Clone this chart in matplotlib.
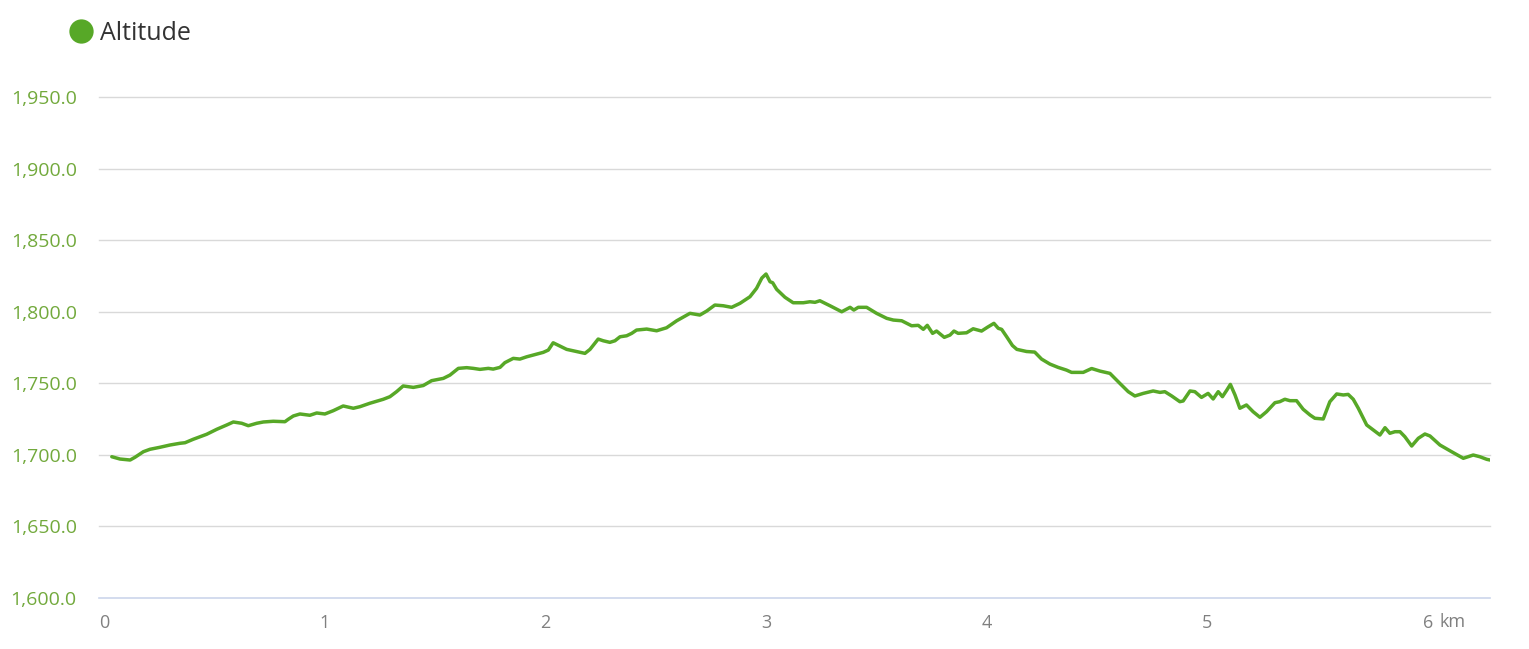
import matplotlib
matplotlib.use("Agg")
import matplotlib.pyplot as plt
from matplotlib.lines import Line2D
import matplotlib.transforms as mtransforms

# Distance along route (km)
distance_km = [
    0.034, 0.071, 0.117, 0.139, 0.177, 0.207, 0.252, 0.298, 0.343, 0.366,
    0.403, 0.464, 0.510, 0.555, 0.585, 0.623, 0.653, 0.691, 0.721, 0.766,
    0.819, 0.834, 0.857, 0.887, 0.932, 0.963, 1.000, 1.038, 1.083, 1.129,
    1.159, 1.204, 1.265, 1.295, 1.325, 1.355, 1.401, 1.446, 1.484, 1.537,
    1.567, 1.605, 1.643, 1.673, 1.703, 1.741, 1.763, 1.794, 1.816, 1.854,
    1.884, 1.915, 1.960, 1.990, 2.013, 2.035, 2.066, 2.096, 2.126, 2.179,
    2.202, 2.239, 2.262, 2.292, 2.315, 2.338, 2.368, 2.391, 2.413, 2.459,
    2.504, 2.549, 2.595, 2.655, 2.700, 2.731, 2.768, 2.806, 2.844, 2.882,
    2.927, 2.957, 2.981, 3.000, 3.018, 3.030, 3.048, 3.086, 3.123, 3.169,
    3.199, 3.222, 3.244, 3.290, 3.343, 3.381, 3.398, 3.418, 3.456, 3.501,
    3.547, 3.577, 3.615, 3.660, 3.690, 3.713, 3.731, 3.755, 3.773, 3.808,
    3.834, 3.852, 3.871, 3.909, 3.939, 3.977, 4.003, 4.033, 4.053, 4.068,
    4.091, 4.117, 4.137, 4.181, 4.218, 4.249, 4.287, 4.324, 4.362, 4.385,
    4.438, 4.476, 4.514, 4.559, 4.604, 4.642, 4.672, 4.710, 4.755, 4.786,
    4.808, 4.839, 4.876, 4.891, 4.922, 4.944, 4.974, 5.004, 5.027, 5.050,
    5.069, 5.088, 5.105, 5.126, 5.148, 5.178, 5.208, 5.239, 5.269, 5.307,
    5.329, 5.352, 5.375, 5.405, 5.435, 5.466, 5.488, 5.526, 5.556, 5.587,
    5.617, 5.639, 5.662, 5.685, 5.723, 5.753, 5.783, 5.806, 5.828, 5.851,
    5.874, 5.896, 5.927, 5.957, 5.987, 6.010, 6.055, 6.108, 6.161, 6.206,
    6.236, 6.267, 6.282,
]

# Altitude (m)
altitude_m = [
    1698.6, 1697.0, 1696.3, 1698.2, 1702.1, 1703.8, 1705.2, 1706.8, 1708.0, 1708.4,
    1710.8, 1714.3, 1717.8, 1720.8, 1722.9, 1722.0, 1720.3, 1722.0, 1722.9, 1723.4,
    1723.1, 1724.8, 1727.1, 1728.5, 1727.6, 1729.2, 1728.5, 1730.8, 1734.1, 1732.5,
    1733.6, 1736.0, 1738.8, 1740.6, 1744.1, 1748.1, 1747.1, 1748.4, 1751.8, 1753.4,
    1755.7, 1760.4, 1760.9, 1760.4, 1759.7, 1760.4, 1759.9, 1761.1, 1764.4, 1767.4,
    1766.9, 1768.5, 1770.4, 1771.6, 1773.2, 1778.3, 1776.0, 1773.7, 1772.7, 1770.9,
    1773.7, 1780.9, 1779.7, 1778.6, 1779.7, 1782.5, 1783.2, 1784.9, 1787.2, 1787.9,
    1786.7, 1788.8, 1793.7, 1798.9, 1797.7, 1800.5, 1804.7, 1804.2, 1803.1, 1805.9,
    1810.5, 1816.4, 1823.6, 1826.4, 1821.0, 1820.3, 1815.7, 1810.1, 1806.3, 1806.3,
    1807.0, 1806.6, 1807.7, 1804.2, 1800.0, 1803.1, 1801.2, 1803.1, 1803.1, 1798.9,
    1795.4, 1794.2, 1793.7, 1790.2, 1790.5, 1787.7, 1790.5, 1784.9, 1786.5, 1782.1,
    1783.7, 1786.5, 1784.9, 1785.3, 1788.1, 1786.5, 1789.1, 1791.9, 1788.4, 1787.7,
    1782.5, 1776.4, 1773.7, 1772.2, 1771.8, 1766.9, 1763.4, 1761.1, 1759.2, 1757.6,
    1757.6, 1760.3, 1758.5, 1756.9, 1749.9, 1744.1, 1741.1, 1742.9, 1744.6, 1743.6,
    1744.1, 1741.1, 1737.1, 1737.6, 1744.6, 1744.1, 1740.1, 1742.9, 1739.0, 1744.1,
    1740.6, 1745.0, 1749.2, 1741.8, 1732.5, 1734.8, 1730.1, 1726.2, 1730.1, 1736.4,
    1737.1, 1738.8, 1737.8, 1737.8, 1731.8, 1727.8, 1725.5, 1725.0, 1737.1, 1742.5,
    1741.8, 1742.2, 1738.8, 1732.5, 1720.8, 1717.3, 1713.8, 1718.9, 1715.0, 1716.1,
    1716.1, 1712.6, 1706.1, 1711.5, 1714.5, 1713.1, 1706.8, 1702.1, 1697.5, 1699.8,
    1698.6, 1696.8, 1696.3,
]

y_ticks = [1600, 1650, 1700, 1750, 1800, 1850, 1900, 1950]
x_ticks = [0, 1, 2, 3, 4, 5, 6]
x_tick_labels = ["0", "1", "2", "3", "4", "5", "6"]
series_name = "Altitude"

LINE = "#57a827"
YLAB = "#72a93c"
XLAB = "#808080"
GRID = "#d9d9d9"
AXISLINE = "#ccd6eb"

plt.rcParams['font.family'] = ['Open Sans', 'DejaVu Sans']

W, H = 1529, 649
fig = plt.figure(figsize=(W / 100, H / 100), dpi=100)
ax = fig.add_axes([99 / W, 1 - 597.7 / H, (1490 - 99) / W, (597.7 - 97.3) / H])

ax.plot(distance_km, altitude_m, color=LINE, lw=2.5, solid_joinstyle='round',
        solid_capstyle='round', zorder=3)

ax.set_xlim(-0.024, 6.282)
ax.set_ylim(1600, 1950)
ax.set_yticks(y_ticks)
ax.set_yticklabels([f"{v:,.1f}" for v in y_ticks])
ax.set_xticks(x_ticks)
ax.set_xticklabels(x_tick_labels)

for v in y_ticks[1:]:
    ax.axhline(v, color=GRID, lw=1.0, zorder=0, clip_on=False)
ax.axhline(y_ticks[0], color=AXISLINE, lw=1.2, zorder=1, clip_on=False)
for s in ax.spines.values():
    s.set_visible(False)
ax.tick_params(axis='y', length=0, pad=16, labelsize=14, labelcolor=YLAB)
ax.tick_params(axis='x', length=0, pad=12, labelsize=13, labelcolor=XLAB)
ax.set_facecolor('white')

# "km" unit after the last tick
trans = mtransforms.blended_transform_factory(ax.transData, ax.transAxes)
ax.text(6 + 12 / 220.6, -24.5 / 500.4, "km", transform=trans,
        color=XLAB, fontsize=13, ha='left', va='center')

# legend
fig.add_artist(Line2D([81 / W], [1 - 31 / H], marker='o', markersize=17.5,
                      color=LINE, markeredgewidth=0, linestyle='none',
                      transform=fig.transFigure))
fig.text(100 / W, 1 - 33 / H, series_name, fontsize=18, color="#333333",
         ha='left', va='center')

fig.savefig("out.png", dpi=100, facecolor='white')
